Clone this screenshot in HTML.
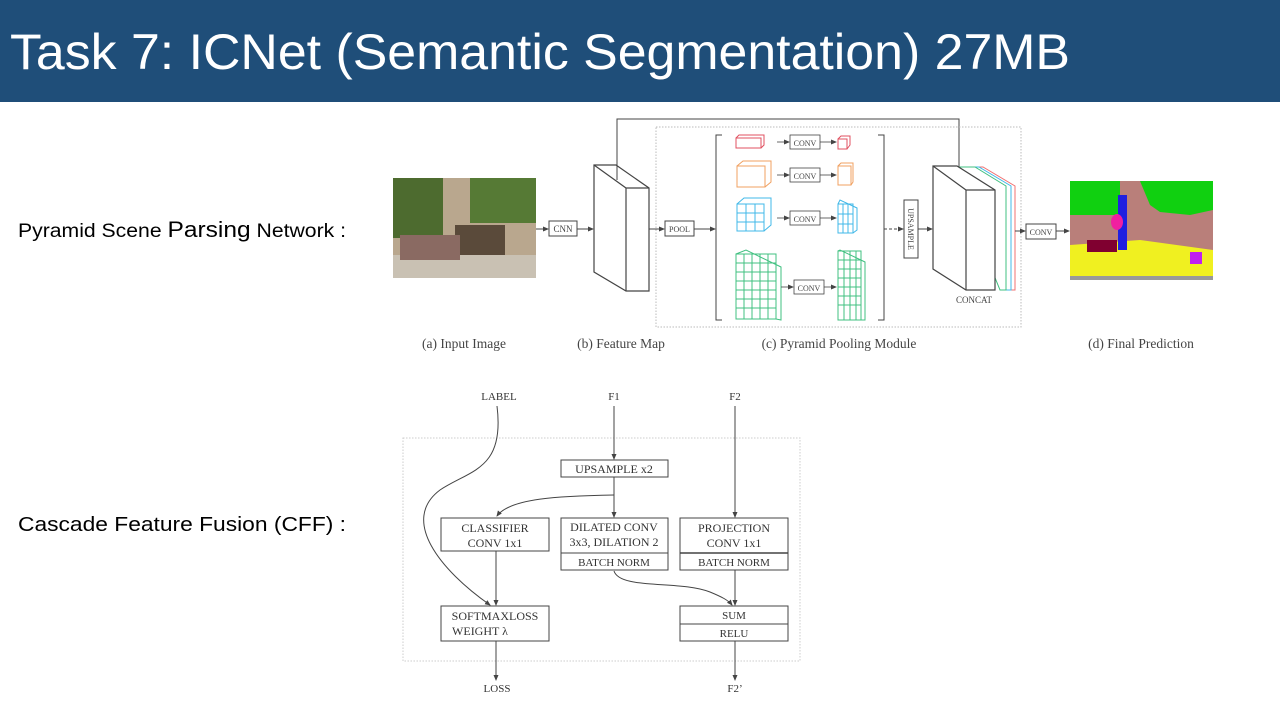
<!DOCTYPE html>
<html><head><meta charset="utf-8"><style>
html,body{margin:0;padding:0;background:#fff;}
svg{display:block;}
</style></head><body>
<svg width="1280" height="720" viewBox="0 0 1280 720" xmlns="http://www.w3.org/2000/svg">
<defs>
<marker id="a" markerWidth="6" markerHeight="6" refX="5" refY="3" orient="auto" markerUnits="userSpaceOnUse"><path d="M0,0.5 L6,3 L0,5.5z" fill="#444"/></marker>
</defs>
<rect x="0" y="0" width="1280" height="102" fill="#1F4E79"/>
<text x="10" y="69" font-family="Liberation Sans, sans-serif" font-size="50" fill="#fff" textLength="1060" lengthAdjust="spacingAndGlyphs">Task 7: ICNet (Semantic Segmentation) 27MB</text>

<text x="18" y="237" font-family="Liberation Sans, sans-serif" font-size="19" fill="#000" textLength="328" lengthAdjust="spacingAndGlyphs">Pyramid Scene <tspan font-size="22">Parsing</tspan> Network :</text>
<text x="18" y="531" font-family="Liberation Sans, sans-serif" font-size="20" fill="#000" textLength="328" lengthAdjust="spacingAndGlyphs">Cascade Feature Fusion (CFF) :</text>

<!-- PSP -->
<g font-family="Liberation Serif, serif" fill="#444" stroke="#444">
<!-- input image -->
<rect x="393" y="178" width="143" height="100" fill="#b9a78e" stroke="none"/>
<rect x="393" y="178" width="50" height="60" fill="#4d6b2f" stroke="none"/>
<rect x="470" y="178" width="66" height="45" fill="#567a35" stroke="none"/>
<rect x="455" y="225" width="50" height="30" fill="#5a4a3a" stroke="none"/>
<rect x="393" y="255" width="143" height="23" fill="#c9c1b3" stroke="none"/>
<rect x="400" y="235" width="60" height="25" fill="#8a6a62" stroke="none"/>
<line x1="536" y1="229" x2="548" y2="229" stroke-width="1" marker-end="url(#a)"/>
<rect x="549" y="221" width="28" height="15" fill="none" stroke-width="1"/>
<text x="563" y="232" font-size="9" text-anchor="middle" stroke="none">CNN</text>
<line x1="577" y1="229" x2="593" y2="229" stroke-width="1" marker-end="url(#a)"/>
<!-- feature map -->
<polygon points="594,165 616,165 649,188 649,291 626,291 594,272" fill="#fff" stroke-width="1.2"/>
<polyline points="594,165 626,188 649,188" fill="none" stroke-width="1.2"/>
<line x1="626" y1="188" x2="626" y2="291" stroke-width="1.2"/>
<polyline points="617,180 617,119 959,119 959,176" fill="none" stroke-width="1" marker-end="url(#a)"/>
<line x1="649" y1="229" x2="664" y2="229" stroke-width="1" marker-end="url(#a)"/>
<rect x="656" y="127" width="365" height="200" fill="none" stroke="#bbb" stroke-dasharray="1.5,1.5" stroke-width="1"/>
<rect x="665" y="221" width="29" height="15" fill="none" stroke-width="1"/>
<text x="679.5" y="232" font-size="8" text-anchor="middle" stroke="none">POOL</text>
<line x1="694" y1="229" x2="715" y2="229" stroke-width="1" marker-end="url(#a)"/>
<polyline points="722,135 716,135 716,320 722,320" fill="none" stroke-width="1"/>
<polyline points="878,135 884,135 884,320 878,320" fill="none" stroke-width="1"/>
<!-- pyramid cubes -->
<g fill="none" stroke-width="1">
<rect x="736" y="138" width="25" height="10" stroke="#e05060"/><polyline points="736,138 739,135 764,135 764,145 761,148" stroke="#e05060"/>
<rect x="737" y="166" width="28" height="21" stroke="#f0a060"/><polyline points="737,166 743,161 771,161 771,182 765,187" stroke="#f0a060"/>
<rect x="737" y="204" width="27" height="27" stroke="#40b8e8"/><polyline points="737,204 744,198 771,198 771,225 764,231" stroke="#40b8e8"/>
<path d="M746,204V231M755,204V231M737,213H764M737,222H764" stroke="#40b8e8"/>
<rect x="736" y="254" width="40" height="65" stroke="#40c080"/><polyline points="736,254 746,250 781,267 781,320 776,319" stroke="#40c080"/>
<path d="M744,254V319M752,254V319M760,254V319M768,254V319M736,263H776M736,272H776M736,281H776M736,290H776M736,299H776M736,308H776" stroke="#40c080"/>
<rect x="838" y="139" width="9" height="10" stroke="#e05060"/><polyline points="838,139 841,136 850,136 850,145 847,149" stroke="#e05060"/>
<rect x="838" y="166" width="13" height="19" stroke="#f0a060"/><polyline points="838,166 841,163 853,163 853,182 851,185" stroke="#f0a060"/>
<rect x="838" y="204" width="15" height="29" stroke="#40b8e8"/><polyline points="838,204 840,200 857,208 857,230 853,233" stroke="#40b8e8"/>
<path d="M843,204V233M848,204V233M838,214H853M838,224H853" stroke="#40b8e8"/>
<rect x="838" y="251" width="23" height="69" stroke="#40c080"/><polyline points="838,251 840,250 865,262 865,320 861,320" stroke="#40c080"/>
<path d="M844,251V320M850,251V320M856,251V320M838,260H861M838,269H861M838,278H861M838,287H861M838,296H861M838,305H861" stroke="#40c080"/>
</g>
<g stroke-width="0.8">
<line x1="777" y1="142" x2="789" y2="142" marker-end="url(#a)"/><rect x="790" y="135" width="30" height="14" fill="none"/><text x="805" y="146" font-size="8" text-anchor="middle" stroke="none">CONV</text><line x1="820" y1="142" x2="836" y2="142" marker-end="url(#a)"/>
<line x1="777" y1="175" x2="789" y2="175" marker-end="url(#a)"/><rect x="790" y="168" width="30" height="14" fill="none"/><text x="805" y="179" font-size="8" text-anchor="middle" stroke="none">CONV</text><line x1="820" y1="175" x2="836" y2="175" marker-end="url(#a)"/>
<line x1="777" y1="218" x2="789" y2="218" marker-end="url(#a)"/><rect x="790" y="211" width="30" height="14" fill="none"/><text x="805" y="222" font-size="8" text-anchor="middle" stroke="none">CONV</text><line x1="820" y1="218" x2="836" y2="218" marker-end="url(#a)"/>
<line x1="781" y1="287" x2="793" y2="287" marker-end="url(#a)"/><rect x="794" y="280" width="30" height="14" fill="none"/><text x="809" y="291" font-size="8" text-anchor="middle" stroke="none">CONV</text><line x1="824" y1="287" x2="836" y2="287" marker-end="url(#a)"/>
</g>
<line x1="884" y1="229" x2="903" y2="229" stroke-width="1" stroke-dasharray="3,2" marker-end="url(#a)"/>
<rect x="904" y="200" width="14" height="58" fill="none" stroke-width="1"/>
<text x="0" y="0" font-size="8" text-anchor="middle" stroke="none" transform="translate(908,229) rotate(90)">UPSAMPLE</text>
<line x1="918" y1="229" x2="932" y2="229" stroke-width="1" marker-end="url(#a)"/>
<!-- concat -->
<g fill="#fff" stroke-width="1">
<polygon points="958,167 983,167 1015,186 1015,290 1010,290" stroke="#f07070"/>
<polygon points="954,167 979,167 1011,186 1011,290 1005,290" stroke="#40b8e8"/>
<polygon points="950,167 975,167 1006,186 1006,290 1000,290" stroke="#40c080"/>
<polygon points="933,166 957,166 995,190 995,290 966,290 933,269" stroke="#444" stroke-width="1.2"/>
<polyline points="933,166 966,190 995,190" fill="none" stroke="#444" stroke-width="1.2"/>
<line x1="966" y1="190" x2="966" y2="290" stroke="#444" stroke-width="1.2"/>
</g>
<text x="974" y="303" font-size="9" text-anchor="middle" stroke="none">CONCAT</text>
<line x1="1015" y1="231" x2="1025" y2="231" stroke-width="1" marker-end="url(#a)"/>
<rect x="1026" y="224" width="30" height="15" fill="none" stroke-width="1"/>
<text x="1041" y="235" font-size="8" text-anchor="middle" stroke="none">CONV</text>
<line x1="1056" y1="231" x2="1069" y2="231" stroke-width="1" marker-end="url(#a)"/>
<!-- prediction -->
<rect x="1070" y="181" width="143" height="98" fill="#b97f7a" stroke="none"/>
<path d="M1070,181H1120V215H1070Z M1140,181H1213V210L1190,215L1160,212L1150,205Z" fill="#10d010" stroke="none"/>
<path d="M1070,245L1140,240L1213,250V276H1070Z" fill="#f0f020" stroke="none"/>
<rect x="1070" y="276" width="143" height="4" fill="#999" stroke="none"/>
<rect x="1118" y="195" width="9" height="55" fill="#2020e0" stroke="none"/>
<ellipse cx="1117" cy="222" rx="6" ry="8" fill="#f020a0" stroke="none"/>
<path d="M1087,240h30v12h-30z" fill="#800030" stroke="none"/>
<rect x="1190" y="252" width="12" height="12" fill="#c020f0" stroke="none"/>
<g font-size="13.5" stroke="none" fill="#444">
<text x="464" y="348" text-anchor="middle">(a) Input Image</text>
<text x="621" y="348" text-anchor="middle">(b) Feature Map</text>
<text x="839" y="348" text-anchor="middle">(c) Pyramid Pooling Module</text>
<text x="1141" y="348" text-anchor="middle">(d) Final Prediction</text>
</g>
</g>

<!-- CFF -->
<g font-family="Liberation Serif, serif" fill="#333" stroke="#444" font-size="12">
<rect x="403" y="438" width="397" height="223" fill="none" stroke="#ccc" stroke-dasharray="1.5,1.5"/>
<g stroke="none" font-size="11">
<text x="499" y="400" text-anchor="middle">LABEL</text>
<text x="614" y="400" text-anchor="middle">F1</text>
<text x="735" y="400" text-anchor="middle">F2</text>
<text x="497" y="692" text-anchor="middle">LOSS</text>
<text x="735" y="692" text-anchor="middle">F2’</text>
</g>
<g fill="none" stroke-width="1">
<line x1="614" y1="406" x2="614" y2="459" marker-end="url(#a)"/>
<line x1="735" y1="406" x2="735" y2="517" marker-end="url(#a)"/>
<rect x="561" y="460" width="107" height="17"/>
<line x1="614" y1="477" x2="614" y2="517" marker-end="url(#a)"/>
<path d="M614,495 C560,496 510,498 497,516" marker-end="url(#a)"/>
<path d="M497,406 C505,470 470,470 440,490 C400,520 440,570 490,605" marker-end="url(#a)"/>
<rect x="441" y="518" width="108" height="33"/>
<rect x="561" y="518" width="107" height="52"/><line x1="561" y1="553" x2="668" y2="553"/>
<rect x="680" y="518" width="108" height="52"/><line x1="680" y1="553" x2="788" y2="553" stroke-width="1.5"/>
<line x1="496" y1="551" x2="496" y2="605" marker-end="url(#a)"/>
<line x1="735" y1="570" x2="735" y2="605" marker-end="url(#a)"/>
<path d="M614,571 C620,590 680,580 710,592 C722,597 728,600 732,605" marker-end="url(#a)"/>
<rect x="441" y="606" width="108" height="35"/>
<rect x="680" y="606" width="108" height="35"/><line x1="680" y1="624" x2="788" y2="624"/>
<line x1="496" y1="641" x2="496" y2="680" marker-end="url(#a)"/>
<line x1="735" y1="641" x2="735" y2="680" marker-end="url(#a)"/>
</g>
<g stroke="none" text-anchor="middle">
<text x="614" y="473">UPSAMPLE x2</text>
<text x="495" y="532">CLASSIFIER</text><text x="495" y="547">CONV 1x1</text>
<text x="614" y="531">DILATED CONV</text><text x="614" y="546">3x3, DILATION 2</text>
<text x="614" y="566" font-size="11">BATCH NORM</text>
<text x="734" y="532">PROJECTION</text><text x="734" y="547">CONV 1x1</text>
<text x="734" y="566" font-size="11">BATCH NORM</text>
<text x="495" y="620">SOFTMAXLOSS</text><text x="480" y="635">WEIGHT λ</text>
<text x="734" y="619" font-size="11">SUM</text><text x="734" y="637" font-size="11">RELU</text>
</g>
</g>
</svg>
</body></html>
